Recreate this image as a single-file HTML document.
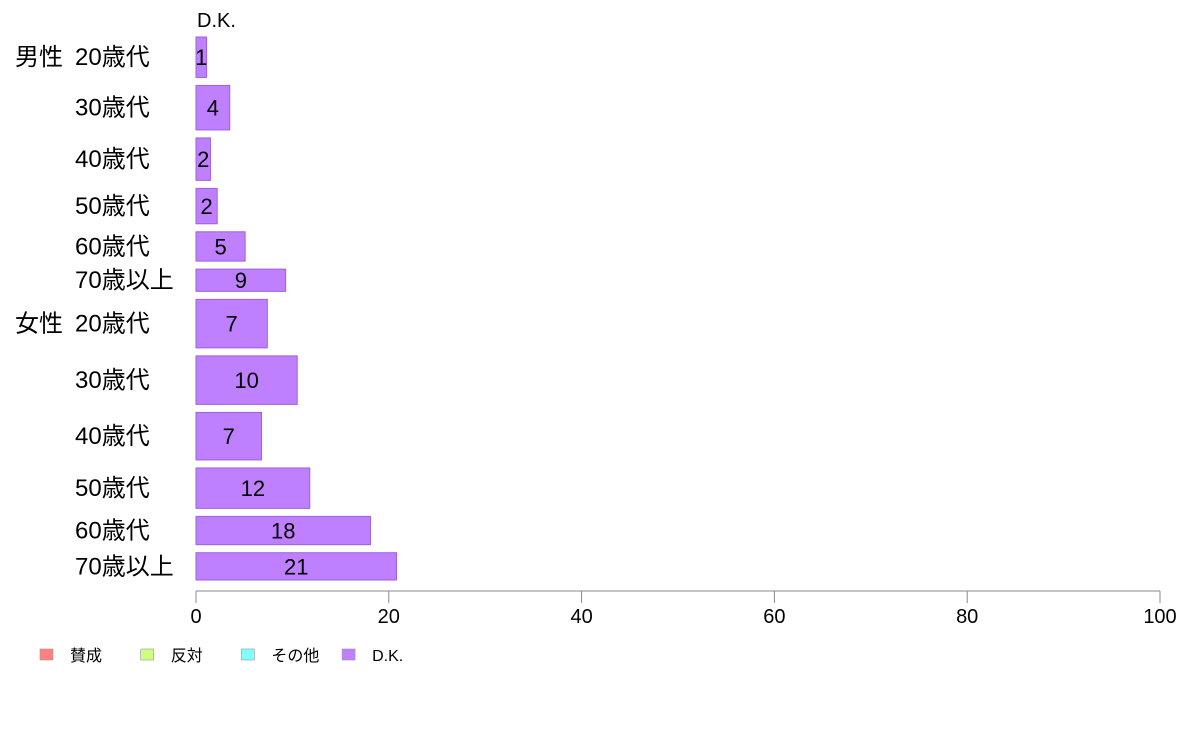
<!DOCTYPE html>
<html><head><meta charset="utf-8"><style>
body{margin:0;background:#fff;font-family:"Liberation Sans","Noto Sans CJK JP",sans-serif;}
svg text{font-family:"Liberation Sans","Noto Sans CJK JP",sans-serif;}
</style></head><body>
<svg id="chart" width="1188" height="736" xmlns="http://www.w3.org/2000/svg">
<text x="197" y="27" font-size="20" fill="#000">D.K.</text>
<g id="bars"></g>
<g id="axis"></g>
<g id="legend"></g>
</svg>
<script>
const groups = ["男性","","","","","","女性","","","","",""];
const categories = ["20歳代","30歳代","40歳代","50歳代","60歳代","70歳以上","20歳代","30歳代","40歳代","50歳代","60歳代","70歳以上"];
const values = [1.1,3.5,1.5,2.2,5.1,9.3,7.4,10.5,6.8,11.8,18.1,20.8];
const valueLabels = ["1","4","2","2","5","9","7","10","7","12","18","21"];
const sampleSizes = [40,44,42,35,29,22,48,48,47,40,28,27];
const ticks = [0,20,40,60,80,100];
const legendLabels = ["賛成","反対","その他","D.K."];
const legendColors = ["#ff8080","#ccff80","#80ffff","#bf80ff"];

const NS="http://www.w3.org/2000/svg";
const x0=196,x1=1160,yTop=37,yBot=580,gap=8;
const xs=v=>x0+(x1-x0)*v/100;
function mk(t,a,p){const e=document.createElementNS(NS,t);for(const k in a)e.setAttribute(k,a[k]);p.appendChild(e);return e;}
const bars=document.getElementById('bars');
const total=sampleSizes.reduce((a,b)=>a+b,0);
const avail=(yBot-yTop)-gap*(values.length-1);
let y=yTop;
values.forEach((v,i)=>{
  const h=avail*sampleSizes[i]/total;
  const r=mk('rect',{x:x0,y:y,width:xs(v)-x0,height:h,fill:'#bf80ff',stroke:'#9f60df','stroke-width':1},bars);
  
  
  const cy=y+h/2+8;
  const t=mk('text',{x:(x0+xs(v))/2,y:cy,'font-size':22,'text-anchor':'middle',fill:'#000'},bars);
  t.textContent=valueLabels[i];
  
  
  const c=mk('text',{x:75,y:cy,'font-size':24,fill:'#000'},bars);
  c.textContent=categories[i];
  
  
  if(groups[i]){
    const g=mk('text',{x:15,y:cy,'font-size':24,fill:'#000'},bars);
    g.textContent=groups[i];
    
    
  }
  y+=h+gap;
});
const ax=document.getElementById('axis');
mk('line',{x1:x0,y1:591,x2:x1,y2:591,stroke:'#888','stroke-width':1},ax);
ticks.forEach(t=>{
  mk('line',{x1:xs(t),y1:591,x2:xs(t),y2:603,stroke:'#888','stroke-width':1},ax);
  const l=mk('text',{x:xs(t),y:623,'font-size':20,'text-anchor':'middle',fill:'#000'},ax);
  l.textContent=t;
  
  
});
const lg=document.getElementById('legend');
legendLabels.forEach((s,i)=>{
  const lx=40+i*100.7;
  const r=mk('rect',{x:lx,y:649,width:13,height:11,fill:legendColors[i],stroke:'#999','stroke-width':0.6},lg);
  
  
  const t=mk('text',{x:lx+30,y:661,'font-size':16,fill:'#000'},lg);
  t.textContent=s;
  
  
});
</script>
</body></html>
